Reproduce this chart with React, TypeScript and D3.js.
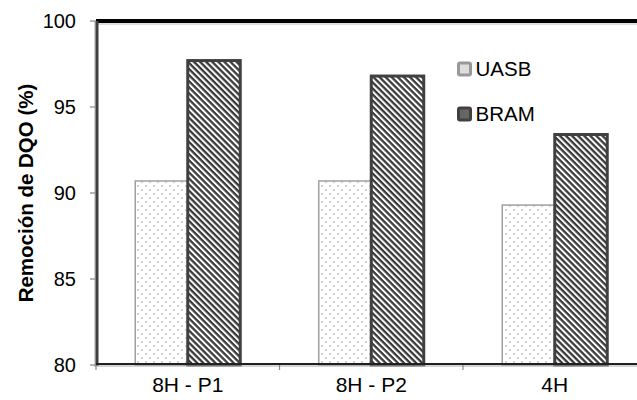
import React from "react";
import * as d3 from "d3";

const categories = ["8H - P1", "8H - P2", "4H"];
const seriesNames = ["UASB", "BRAM"];
const uasbValues = [90.7, 90.7, 89.3];
const bramValues = [97.7, 96.8, 93.4];
const yTicks = [80, 85, 90, 95, 100];

const W = 637;
const H = 400;
const left = 96;
const top = 21;
const bottom = 365;
const bandW = 183.5;

export default function App() {
  const x = d3
    .scaleBand<string>()
    .domain(categories)
    .range([left, left + bandW * categories.length])
    .paddingInner(0)
    .paddingOuter(0);
  const y = d3.scaleLinear().domain([80, 100]).range([bottom, top]);
  const barW = 52.5;
  const series = [uasbValues, bramValues];
  const font = "'Liberation Sans', Arial, sans-serif";

  return (
    <svg
      width={W}
      height={H}
      style={{ position: "absolute", left: 0, top: 0, background: "#fff" }}
      fontFamily={font}
    >
      <defs>
        <pattern id="dots" width="8" height="8" patternUnits="userSpaceOnUse">
          <rect width="8" height="8" fill="#fff" />
          <circle cx="2" cy="2" r="1" fill="#c4c4c4" />
          <circle cx="6" cy="6" r="1" fill="#c4c4c4" />
        </pattern>
        <pattern
          id="stripes"
          width="4.3"
          height="4.3"
          patternUnits="userSpaceOnUse"
          patternTransform="rotate(45)"
        >
          <rect width="4.3" height="4.3" fill="#fff" />
          <rect width="4.3" height="2.3" fill="#3a3a3a" />
        </pattern>
      </defs>

      {/* bars */}
      {categories.map((c, i) => {
        const cx = (x(c) as number) + x.bandwidth() / 2;
        return series.map((vals, s) => {
          const x0 = cx - barW + s * barW;
          const yv = y(vals[i]);
          return (
            <rect
              key={c + s}
              x={x0}
              y={yv}
              width={barW}
              height={bottom - yv}
              fill={s === 0 ? "url(#dots)" : "url(#stripes)"}
              stroke={s === 0 ? "#a0a0a0" : "#404040"}
              strokeWidth={s === 0 ? 1.5 : 3}
            />
          );
        });
      })}

      {/* top border */}
      <line x1={left} x2={W} y1={top + 3} y2={top + 3} stroke="#bbb" strokeWidth={1} />
      <line x1={left} x2={W} y1={top} y2={top} stroke="#000" strokeWidth={4} />

      {/* left axis */}
      <line x1={left - 1} x2={left - 1} y1={top} y2={bottom + 2} stroke="#aaa" strokeWidth={1} />
      <line x1={left + 1} x2={left + 1} y1={top} y2={bottom + 1} stroke="#404040" strokeWidth={3} />
      {yTicks.map((t) => (
        <g key={t}>
          <line x1={left - 6} x2={left} y1={y(t)} y2={y(t)} stroke="#888" strokeWidth={1.2} />
          <text
            x={76}
            y={y(t)}
            dy="0.35em"
            textAnchor="end"
            fontSize={20}
            fill="#000"
          >
            {t}
          </text>
        </g>
      ))}

      {/* bottom axis */}
      <line x1={left} x2={W} y1={bottom + 1} y2={bottom + 1} stroke="#aaa" strokeWidth={1} />
      <line x1={left} x2={W} y1={bottom - 1} y2={bottom - 1} stroke="#202020" strokeWidth={2} />
      {categories.map((c) => (
        <line
          key={"t" + c}
          x1={x(c) as number}
          x2={x(c) as number}
          y1={bottom}
          y2={bottom + 5}
          stroke="#888"
          strokeWidth={1.2}
        />
      ))}
      {categories.map((c) => (
        <text
          key={"l" + c}
          x={(x(c) as number) + x.bandwidth() / 2}
          y={385}
          dy="0.35em"
          textAnchor="middle"
          fontSize={21}
          fill="#000"
        >
          {c}
        </text>
      ))}

      {/* y label */}
      <text
        transform={`translate(33, ${(top + bottom) / 2}) rotate(-90)`}
        textAnchor="middle"
        fontSize={20.5}
        fontWeight="bold"
        fill="#000"
      >
        Remoción de DQO (%)
      </text>

      {/* legend */}
      {seriesNames.map((n, i) => (
        <g key={n} transform={`translate(458.5, ${63 + i * 45})`}>
          <rect
            x={0}
            y={0}
            width={12}
            height={12}
            rx={1.5}
            fill={i === 0 ? "#ddd" : "#666"}
            stroke={i === 0 ? "#999" : "#404040"}
            strokeWidth={3}
          />
          <text x={17} y={6} dy="0.35em" fontSize={20.5} fill="#000">
            {n}
          </text>
        </g>
      ))}
    </svg>
  );
}
